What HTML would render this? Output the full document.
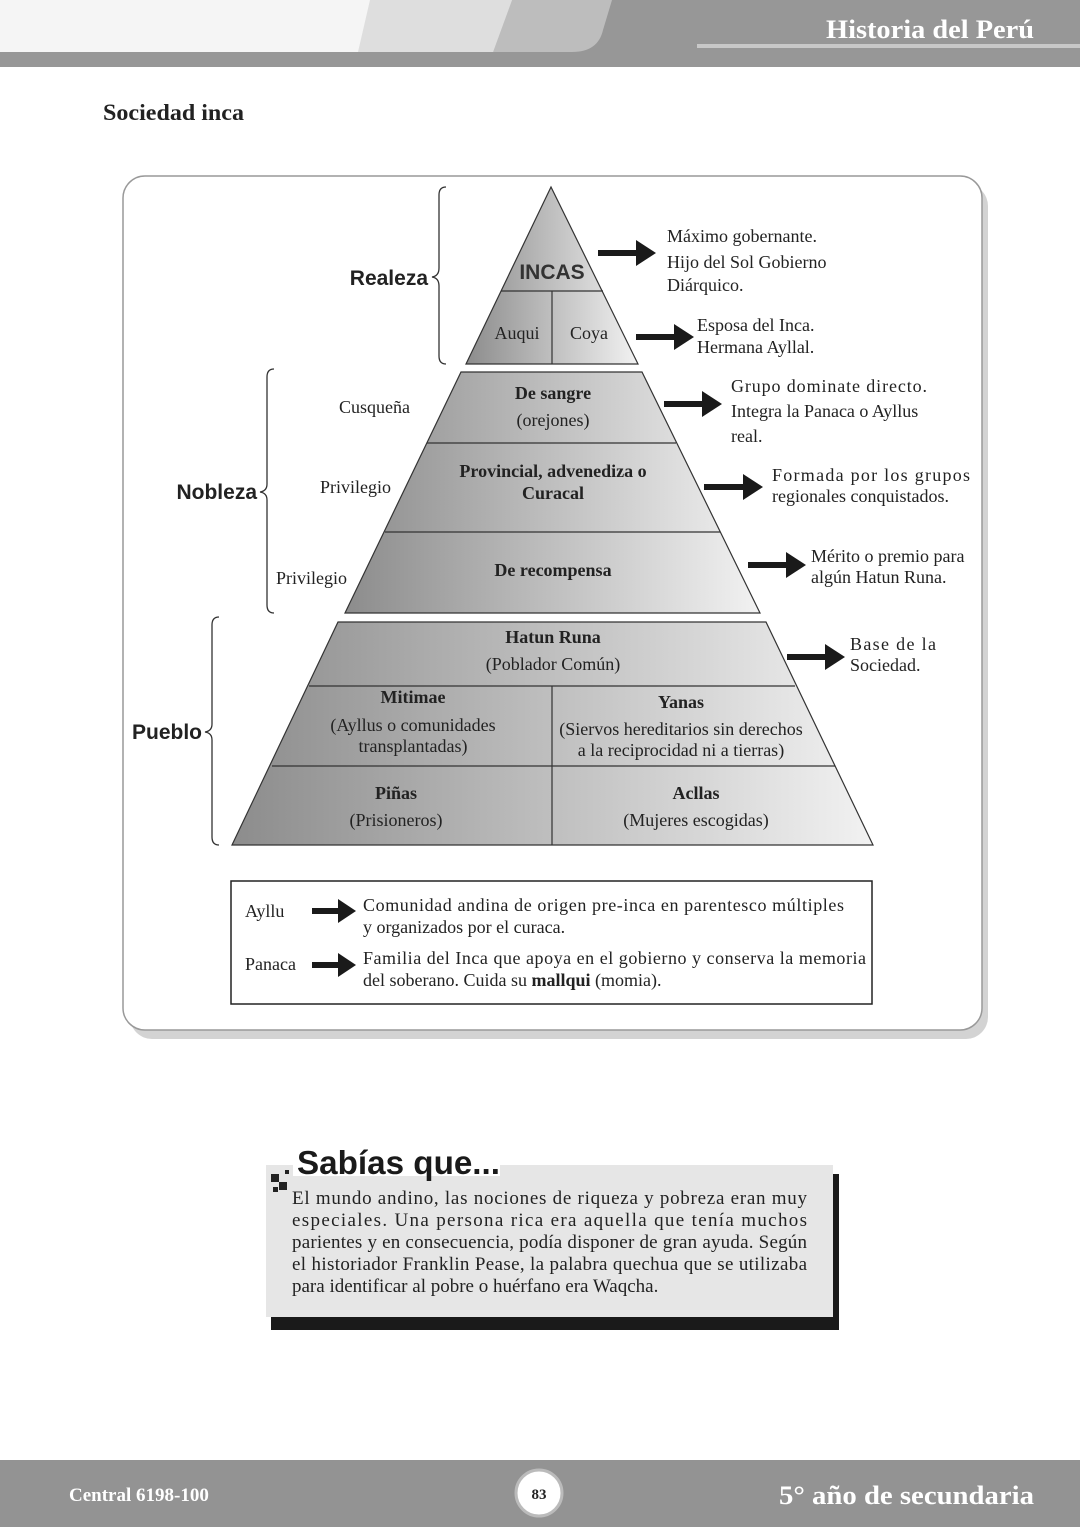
<!DOCTYPE html>
<html><head><meta charset="utf-8"><style>
body{margin:0;background:#fff}
svg{display:block}
</style></head><body>
<svg width="1080" height="1527" viewBox="0 0 1080 1527" xmlns="http://www.w3.org/2000/svg" font-family="Liberation Serif, serif">
<defs>
<linearGradient id="g" x1="0" x2="1" y1="0" y2="0">
<stop offset="0" stop-color="#8c8c8c"/><stop offset="1" stop-color="#f2f2f2"/>
</linearGradient>
</defs>
<!-- header -->
<rect x="0" y="0" width="1080" height="52" fill="#f5f5f5"/>
<polygon points="370,0 512,0 493,52 358,52" fill="#dedede"/>
<polygon points="512,0 635,0 622,52 493,52" fill="#bdbdbd"/>
<path d="M635,0 L1080,0 L1080,52 L572,52 Q598,52 603,30 L612,0 Z" fill="#979797"/>
<rect x="0" y="52" width="1080" height="15" fill="#979797"/>
<rect x="697" y="44" width="383" height="4" fill="#c8c8c8"/>
<text x="1034" y="38" text-anchor="end" font-size="26" font-weight="bold" fill="#fff" textLength="208" lengthAdjust="spacingAndGlyphs">Historia del Perú</text>
<text x="103" y="120" font-size="23" font-weight="bold" fill="#222" textLength="141" lengthAdjust="spacingAndGlyphs">Sociedad inca</text>
<!-- card -->
<rect x="130" y="184" width="858" height="855" rx="22" fill="#b5b5b5" opacity="0.6"/>
<rect x="123" y="176" width="859" height="854" rx="22" fill="#fff" stroke="#999" stroke-width="1.5"/>
<!-- pyramid -->
<g stroke="#333" stroke-width="1.2" fill="url(#g)">
<polygon points="551,187 466,364 638,364"/>
<polygon points="461,372 642,372 760,613 345,613"/>
<polygon points="338,622 766,622 873,845 232,845"/>
</g>
<g stroke="#333" stroke-width="1.2">
<line x1="501" y1="291" x2="603" y2="291"/>
<line x1="552" y1="291" x2="552" y2="364"/>
<line x1="427" y1="443" x2="676" y2="443"/>
<line x1="385" y1="532" x2="720" y2="532"/>
<line x1="309" y1="686" x2="795" y2="686"/>
<line x1="272" y1="766" x2="835" y2="766"/>
<line x1="552" y1="686" x2="552" y2="845"/>
</g>
<g font-size="18" fill="#222" text-anchor="middle">
<text x="552" y="279" font-family="Liberation Sans, sans-serif" font-size="21" font-weight="bold" fill="#333">INCAS</text>
<text x="517" y="339">Auqui</text><text x="589" y="339">Coya</text>
<text x="553" y="399" font-weight="bold">De sangre</text>
<text x="553" y="426">(orejones)</text>
<text x="553" y="477" font-weight="bold">Provincial, advenediza o</text>
<text x="553" y="499" font-weight="bold">Curacal</text>
<text x="553" y="576" font-weight="bold">De recompensa</text>
<text x="553" y="643" font-weight="bold">Hatun Runa</text>
<text x="553" y="670">(Poblador Común)</text>
<text x="413" y="703" font-weight="bold">Mitimae</text>
<text x="413" y="731">(Ayllus o comunidades</text>
<text x="413" y="752">transplantadas)</text>
<text x="681" y="708" font-weight="bold">Yanas</text>
<text x="681" y="735">(Siervos hereditarios sin derechos</text>
<text x="681" y="756">a la reciprocidad ni a tierras)</text>
<text x="396" y="799" font-weight="bold">Piñas</text>
<text x="396" y="826">(Prisioneros)</text>
<text x="696" y="799" font-weight="bold">Acllas</text>
<text x="696" y="826">(Mujeres escogidas)</text>
</g>
<!-- braces -->
<g fill="none" stroke="#333" stroke-width="1.3">
<path d="M446,187 Q439,187 439,195 L439,268 Q439,276 432,277 Q439,278 439,286 L439,356 Q439,364 446,364"/>
<path d="M274,369 Q267,369 267,377 L267,484 Q267,491 260,492 Q267,493 267,500 L267,605 Q267,613 274,613"/>
<path d="M219,617 Q212,617 212,625 L212,724 Q212,731 205,732 Q212,733 212,740 L212,837 Q212,845 219,845"/>
</g>
<g font-family="Liberation Sans, sans-serif" font-size="21" font-weight="bold" fill="#222" text-anchor="end">
<text x="428" y="285">Realeza</text>
<text x="257" y="499">Nobleza</text>
<text x="202" y="739">Pueblo</text>
</g>
<g font-size="18" fill="#222">
<text x="339" y="413">Cusqueña</text>
<text x="320" y="493">Privilegio</text>
<text x="276" y="584">Privilegio</text>
</g>
<g font-size="18" fill="#222">
<text x="667" y="242">Máximo gobernante.</text>
<text x="667" y="268">Hijo del Sol Gobierno</text>
<text x="667" y="291">Diárquico.</text>
<text x="697" y="331">Esposa del Inca.</text>
<text x="697" y="353">Hermana Ayllal.</text>
<text x="731" y="392" textLength="196" lengthAdjust="spacing">Grupo dominate directo.</text>
<text x="731" y="417">Integra la Panaca o Ayllus</text>
<text x="731" y="442">real.</text>
<text x="772" y="481" textLength="198" lengthAdjust="spacing">Formada por los grupos</text>
<text x="772" y="502">regionales conquistados.</text>
<text x="811" y="562">Mérito o premio para</text>
<text x="811" y="583">algún Hatun Runa.</text>
<text x="850" y="650" textLength="86" lengthAdjust="spacing">Base de la</text>
<text x="850" y="671">Sociedad.</text>
</g>
<!-- legend -->
<rect x="231" y="881" width="641" height="123" fill="#fff" stroke="#222" stroke-width="1.5"/>
<g font-size="18" fill="#222">
<text x="245" y="917">Ayllu</text>
<text x="245" y="970">Panaca</text>
<text x="363" y="911" textLength="481" lengthAdjust="spacing">Comunidad andina de origen pre-inca en parentesco múltiples</text>
<text x="363" y="933">y organizados por el curaca.</text>
<text x="363" y="964" textLength="503" lengthAdjust="spacing">Familia del Inca que apoya en el gobierno y conserva la memoria</text>
<text x="363" y="986">del soberano. Cuida su <tspan font-weight="bold">mallqui</tspan> (momia).</text>
</g>
<!-- arrows -->
<g fill="#1a1a1a">
<path d="M598,250 h38 v-10 l20,13 l-20,13 v-10 h-38 z"/>
<path d="M636,334 h38 v-10 l20,13 l-20,13 v-10 h-38 z"/>
<path d="M664,401 h38 v-10 l20,13 l-20,13 v-10 h-38 z"/>
<path d="M704,484 h39 v-10 l20,13 l-20,13 v-10 h-39 z"/>
<path d="M748,562 h38 v-10 l20,13 l-20,13 v-10 h-38 z"/>
<path d="M787,654 h38 v-10 l20,13 l-20,13 v-10 h-38 z"/>
<path d="M312,908 h26 v-9 l18,12 l-18,12 v-9 h-26 z"/>
<path d="M312,962 h26 v-9 l18,12 l-18,12 v-9 h-26 z"/>
</g>
<!-- sabias -->
<rect x="271" y="1174" width="568" height="156" fill="#1a1a1a"/>
<rect x="266" y="1165" width="567" height="152" fill="#e6e6e6"/>
<rect x="293" y="1143" width="207" height="33" fill="#fff"/>
<text x="297" y="1174" font-family="Liberation Sans, sans-serif" font-weight="bold" font-size="33" fill="#1a1a1a" textLength="203" lengthAdjust="spacingAndGlyphs">Sabías que...</text>
<rect x="271" y="1174" width="8" height="8" fill="#222"/><rect x="279" y="1182" width="8" height="8" fill="#222"/><rect x="273" y="1187" width="5" height="5" fill="#222"/><rect x="285" y="1170" width="4" height="4" fill="#222"/>
<g font-size="19" fill="#222">
<text x="292" y="1204" textLength="515" lengthAdjust="spacing">El mundo andino, las nociones de riqueza y pobreza eran muy</text>
<text x="292" y="1226" textLength="515" lengthAdjust="spacing">especiales. Una persona rica era aquella que tenía muchos</text>
<text x="292" y="1248" textLength="515" lengthAdjust="spacing">parientes y en consecuencia, podía disponer de gran ayuda. Según</text>
<text x="292" y="1270" textLength="515" lengthAdjust="spacing">el historiador Franklin Pease, la palabra quechua que se utilizaba</text>
<text x="292" y="1292">para identificar al pobre o huérfano era Waqcha.</text>
</g>
<!-- footer -->
<rect x="0" y="1460" width="1080" height="67" fill="#939393"/>
<text x="69" y="1501" font-size="19" font-weight="bold" fill="#fff">Central 6198-100</text>
<circle cx="539" cy="1493" r="23" fill="#fff" stroke="#bbb" stroke-width="3"/>
<text x="539" y="1499" text-anchor="middle" font-size="15" font-weight="bold" fill="#222">83</text>
<text x="1034" y="1504" text-anchor="end" font-size="26" font-weight="bold" fill="#fff" textLength="255" lengthAdjust="spacingAndGlyphs">5° año de secundaria</text>
</svg>
</body></html>
